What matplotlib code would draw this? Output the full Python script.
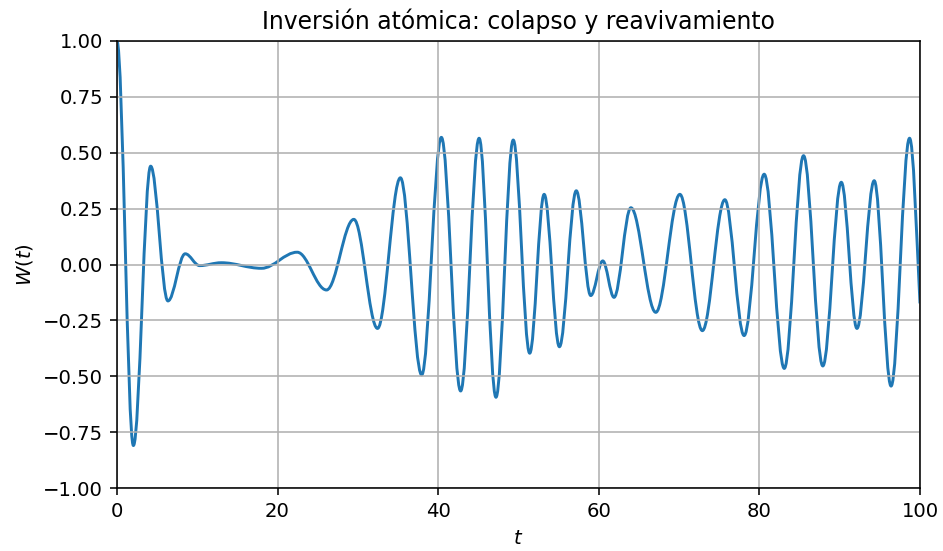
import matplotlib
matplotlib.use("Agg")
import matplotlib.pyplot as plt
from matplotlib.path import Path
from matplotlib.patches import PathPatch

# turning points of W(t) (t, W)
t_ext = [0.0, 2.05, 4.2, 6.35, 8.5, 10.3, 13.0, 18.0, 22.45, 26.1, 29.5,
         32.45, 35.3, 37.95, 40.4, 42.8, 45.1, 47.2, 49.35, 51.4, 53.2,
         55.1, 57.2, 59.0, 60.5, 61.9, 64.0, 67.1, 70.1, 72.9, 75.7,
         78.1, 80.6, 83.1, 85.5, 87.9, 90.2, 92.15, 94.3, 96.4, 98.7, 100.0]
w_ext = [1.0, -0.81, 0.44, -0.163, 0.048, -0.005, 0.008, -0.017, 0.055, -0.114, 0.202,
         -0.286, 0.388, -0.494, 0.569, -0.566, 0.565, -0.594, 0.557, -0.397, 0.314,
         -0.368, 0.330, -0.139, 0.016, -0.147, 0.254, -0.214, 0.314, -0.296, 0.290,
         -0.318, 0.404, -0.465, 0.487, -0.454, 0.368, -0.286, 0.375, -0.544, 0.565, -0.174]

# smooth curve through the turning points: cubic Bezier pieces with flat tangents
verts = [(t_ext[0], w_ext[0])]
codes = [Path.MOVETO]
n = len(t_ext)
for i in range(n - 1):
    t1, w1 = t_ext[i], w_ext[i]
    t2, w2 = t_ext[i + 1], w_ext[i + 1]
    d = 0.36 * (t2 - t1)
    c2 = (t2 - d, w2)
    if i == n - 2:  # last point is not a turning point
        c2 = (t2 - d, w2 + 0.45 * (w1 - w2))
    verts += [(t1 + d, w1), c2, (t2, w2)]
    codes += [Path.CURVE4] * 3

dpi = 141
fig, ax = plt.subplots(figsize=(943 / dpi, 551 / dpi), dpi=dpi)
fig.subplots_adjust(left=0.124, right=0.9756, top=0.9256, bottom=0.1143)

ax.add_patch(PathPatch(Path(verts, codes), fill=False, edgecolor="C0",
                       linewidth=1.5, capstyle="butt", joinstyle="round"))
ax.set_xlim(0, 100)
ax.set_ylim(-1, 1)
ax.set_title("Inversión atómica: colapso y reavivamiento")
ax.set_xlabel("$t$")
ax.set_ylabel("$W(t)$")
ax.grid(True)

plt.savefig("out.png", dpi=dpi)
